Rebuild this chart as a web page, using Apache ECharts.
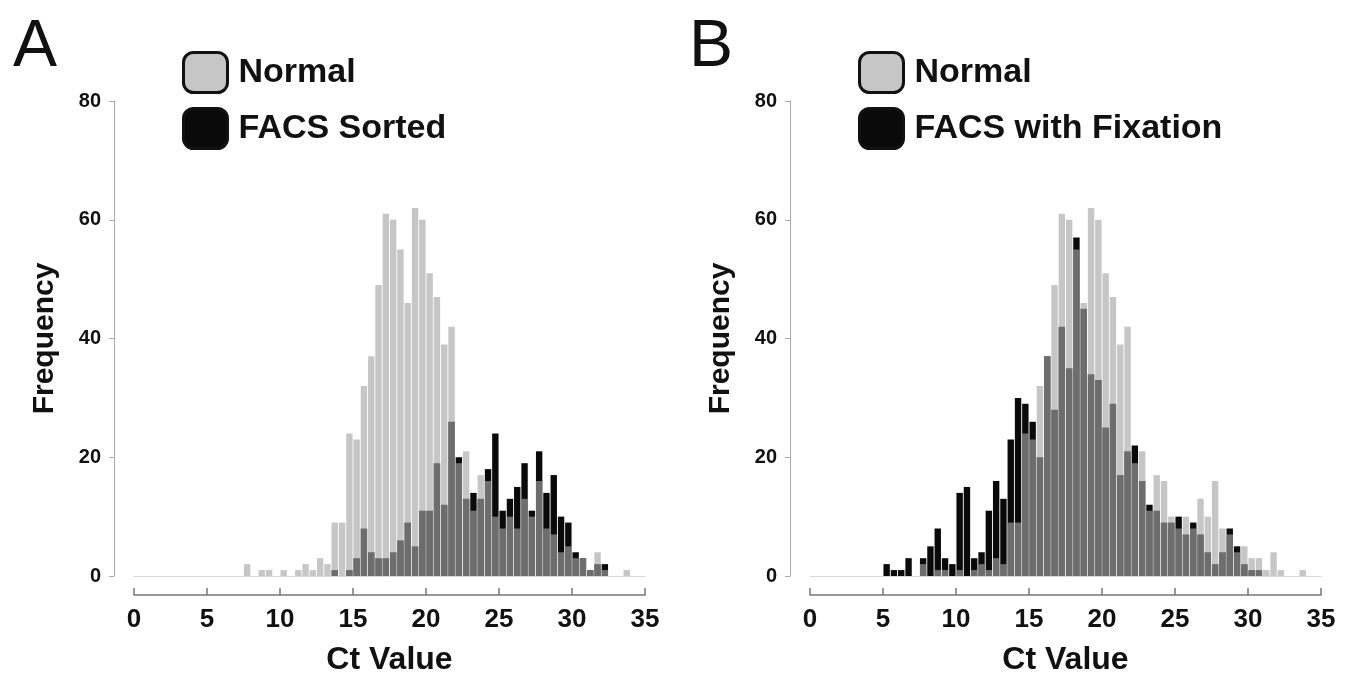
<!DOCTYPE html>
<html>
<head>
<meta charset="utf-8">
<title>Ct Value histograms</title>
<script src="https://cdn.jsdelivr.net/npm/echarts@6/dist/echarts.min.js"></script>
<style>
  html, body { margin: 0; padding: 0; background: #fff; }
  #chart { width: 1350px; height: 677px; }
</style>
</head>
<body>
<div id="chart"></div>
<script>
// left edge of each 0.5 wide Ct bin
const binStart = [5.0, 5.5, 6.0, 6.5, 7.0, 7.5, 8.0, 8.5, 9.0, 9.5,
  10.0, 10.5, 11.0, 11.5, 12.0, 12.5, 13.0, 13.5, 14.0, 14.5,
  15.0, 15.5, 16.0, 16.5, 17.0, 17.5, 18.0, 18.5, 19.0, 19.5,
  20.0, 20.5, 21.0, 21.5, 22.0, 22.5, 23.0, 23.5, 24.0, 24.5,
  25.0, 25.5, 26.0, 26.5, 27.0, 27.5, 28.0, 28.5, 29.0, 29.5,
  30.0, 30.5, 31.0, 31.5, 32.0, 32.5, 33.0, 33.5, 34.0]

const normal = [0, 0, 0, 0, 0, 2, 0, 1, 1, 0,
  1, 0, 1, 2, 1, 3, 2, 9, 9, 24,
  23, 32, 37, 49, 61, 60, 55, 46, 62, 60,
  51, 47, 39, 42, 19, 21, 11, 17, 16, 10,
  8, 10, 8, 13, 10, 16, 8, 7, 4, 5,
  3, 3, 1, 4, 1, 0, 0, 1, 0]

const facsSorted = [0, 0, 0, 0, 0, 0, 0, 0, 0, 0,
  0, 0, 0, 0, 0, 0, 0, 1, 0, 1,
  3, 8, 4, 3, 3, 4, 6, 9, 5, 11,
  11, 19, 12, 26, 20, 13, 14, 13, 18, 24,
  11, 13, 15, 19, 11, 21, 14, 17, 10, 9,
  4, 3, 1, 2, 2, 0, 0, 0, 0]

const facsFixation = [2, 1, 1, 3, 0, 3, 5, 8, 3, 2,
  14, 15, 3, 4, 11, 16, 13, 23, 30, 29,
  26, 20, 37, 28, 42, 35, 57, 45, 34, 33,
  25, 29, 17, 21, 22, 16, 12, 11, 9, 9,
  10, 7, 9, 7, 4, 2, 4, 8, 5, 2,
  1, 1, 0, 0, 0, 0, 0, 0, 0]

const xTicks = [0, 35, 5]   // min, max, interval
const yTicks = [0, 80, 20]

const panels = [
  { letter: 'A', facsName: 'FACS Sorted', facs: facsSorted },
  { letter: 'B', facsName: 'FACS with Fixation', facs: facsFixation }
]

const fontFamily = 'Liberation Sans, Arial, sans-serif'

function toPoints (values) {
  return values.map(function (v, i) { return [binStart[i] + 0.25, v] })
}

const chart = echarts.init(document.getElementById('chart'))

let option = {
  backgroundColor: '#fff',
  animation: false,
  textStyle: { fontFamily: fontFamily },
  title: [],
  legend: [],
  grid: [
    { left: 134, right: 705, top: 101, bottom: 101, outerBoundsMode: 'none' },
    { left: 810, right: 29, top: 101, bottom: 101, outerBoundsMode: 'none' }
  ],
  xAxis: [],
  yAxis: [],
  series: []
}

panels.forEach(function (p, i) {
  const shift = i * 676

  option.title.push({
    text: p.letter,
    left: 8 + shift,
    top: 10,
    textStyle: { fontSize: 66, fontWeight: 'normal', color: '#111', fontFamily: fontFamily }
  })

  option.legend.push({
    orient: 'vertical',
    left: 177 + shift,
    top: 46,
    itemWidth: 44,
    itemHeight: 40,
    itemGap: 13,
    selectedMode: false,
    icon: 'roundRect',
    textStyle: { fontSize: 34, fontWeight: 'bold', color: '#111', padding: [0, 0, 0, 6] },
    data: [
      { name: 'Normal', itemStyle: { color: '#c6c6c6', borderColor: '#111', borderWidth: 3, opacity: 1 } },
      { name: p.facsName, itemStyle: { color: '#0a0a0a', borderColor: '#111', borderWidth: 3 } }
    ]
  })

  // axis shown below the plot, detached from the baseline
  option.xAxis.push({
    type: 'value',
    gridIndex: i,
    position: 'bottom',
    min: xTicks[0],
    max: xTicks[1],
    interval: xTicks[2],
    offset: 19,
    name: 'Ct Value',
    nameLocation: 'middle',
    nameGap: 49,
    nameTextStyle: { fontSize: 32, fontWeight: 'bold', color: '#111' },
    axisLine: { onZero: false, lineStyle: { color: '#777', width: 1.5 } },
    axisTick: { inside: true, length: 7, lineStyle: { color: '#777', width: 1.5 } },
    axisLabel: { fontSize: 26, fontWeight: 'bold', color: '#111', margin: 12 },
    splitLine: { show: false }
  })
  // thin baseline at zero
  option.xAxis.push({
    type: 'value',
    gridIndex: i,
    position: 'bottom',
    offset: 0,
    min: xTicks[0],
    max: xTicks[1],
    axisLine: { onZero: false, lineStyle: { color: '#d8d8d8', width: 1 } },
    axisTick: { show: false },
    axisLabel: { show: false },
    splitLine: { show: false }
  })

  option.yAxis.push({
    type: 'value',
    gridIndex: i,
    min: yTicks[0],
    max: yTicks[1],
    interval: yTicks[2],
    offset: 20,
    name: 'Frequency',
    nameLocation: 'middle',
    nameGap: 54,
    nameTextStyle: { fontSize: 30, fontWeight: 'bold', color: '#111' },
    axisLine: { show: true, onZero: false, lineStyle: { color: '#aaa', width: 1 } },
    axisTick: { length: 5, lineStyle: { color: '#aaa' } },
    axisLabel: { fontSize: 20, fontWeight: 'bold', color: '#111', margin: 13 },
    splitLine: { show: false }
  })

  // black FACS bars first, then translucent grey Normal bars on top
  option.series.push({
    name: p.facsName,
    type: 'bar',
    xAxisIndex: i * 2,
    yAxisIndex: i,
    barWidth: 6.4,
    barGap: '-100%',
    itemStyle: { color: '#0a0a0a' },
    data: toPoints(p.facs)
  })
  option.series.push({
    name: 'Normal',
    type: 'bar',
    xAxisIndex: i * 2,
    yAxisIndex: i,
    barWidth: 6.4,
    barGap: '-100%',
    itemStyle: { color: 'rgba(166,166,166,0.64)' },
    data: toPoints(normal)
  })
})

chart.setOption(option)
</script>
</body>
</html>
